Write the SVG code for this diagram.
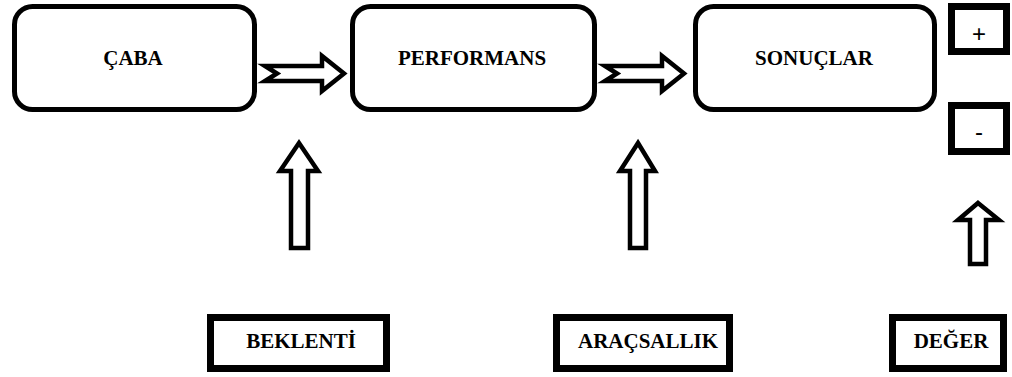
<svg xmlns="http://www.w3.org/2000/svg" width="1012" height="377" viewBox="0 0 1012 377">
<style>
.rbox{fill:#fff;stroke:#000;stroke-width:5}
.sbox{fill:#fff;stroke:#000;stroke-width:7}
.arr{fill:#fff;stroke:#000;stroke-width:4.5;stroke-linejoin:miter}
.lbl{font-family:"Liberation Serif","Times New Roman",serif;font-weight:bold;font-size:21px;text-anchor:middle;fill:#000}
.sym{font-family:"Liberation Sans",Arial,sans-serif;font-size:24px;text-anchor:middle;fill:#000}
</style>
<rect width="1012" height="377" fill="#fff"/>
<g id="connectors">
<path class="arr" d="M265,66 L322,66 L322,56 L344,73.5 L322,91 L322,81 L265,81 L277,73.5 Z"/>
<path class="arr" d="M605,66 L662,66 L662,56 L684,73.5 L662,91 L662,81 L605,81 L617,73.5 Z"/>
<path class="arr" d="M299,143 L318,171 L308,171 L308,248 L291,248 L291,171 L280,171 Z"/>
<path class="arr" d="M638,143 L655,171 L646,171 L646,248 L630,248 L630,171 L620,171 Z"/>
<path class="arr" d="M978,203 L999,220 L986,220 L986,264 L970,264 L970,220 L958,220 Z"/>
</g>
<g id="caba"><rect class="rbox" x="14.5" y="6.5" width="240" height="103" rx="18"/><text class="lbl" x="133" y="65">ÇABA</text></g>
<g id="performans"><rect class="rbox" x="352.5" y="6.5" width="242" height="103" rx="18"/><text class="lbl" x="472" y="65">PERFORMANS</text></g>
<g id="sonuclar"><rect class="rbox" x="695.5" y="6.5" width="239" height="103" rx="18"/><text class="lbl" x="814" y="65">SONUÇLAR</text></g>
<g id="plus"><rect class="sbox" x="951.5" y="6.5" width="55" height="45"/><text class="sym" x="979" y="42">+</text></g>
<g id="minus"><rect class="sbox" x="951.5" y="105.5" width="55" height="46"/><text class="sym" x="979" y="140">-</text></g>
<g id="beklenti"><rect class="sbox" x="210.5" y="317.5" width="176" height="51"/><text class="lbl" x="301" y="348">BEKLENTİ</text></g>
<g id="aracsallik"><rect class="sbox" x="556.5" y="317.5" width="173" height="51"/><text class="lbl" x="648" y="348">ARAÇSALLIK</text></g>
<g id="deger"><rect class="sbox" x="892.5" y="317.5" width="111" height="51"/><text class="lbl" x="951" y="348">DEĞER</text></g>
</svg>
